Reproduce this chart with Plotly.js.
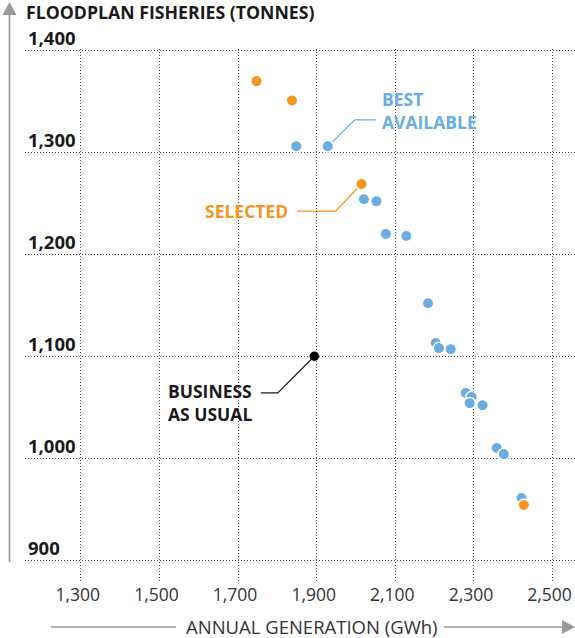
<!DOCTYPE html>
<html>
<head>
<meta charset="utf-8">
<script src="https://cdn.plot.ly/plotly-3.0.1.min.js"></script>
<style>html,body{margin:0;padding:0;background:#fff;}#chart{width:575px;height:638px;}</style>
</head>
<body>
<div id="chart"></div>
<script>
// ---- data ----
const blueX = [1848, 1928, 2020, 2052, 2076, 2128, 2183, 2203, 2211, 2241, 2279, 2294, 2289, 2322, 2358, 2376, 2421];
const blueY = [1306, 1306, 1254, 1252, 1220, 1218, 1152, 1113, 1108, 1107, 1064, 1060, 1054, 1052, 1010, 1004, 961];
const orangeX = [1747, 1837, 2014, 2427];
const orangeY = [1370, 1351, 1269, 954];
const bauX = [1894];
const bauY = [1100];
const xTickVals = [1300, 1500, 1700, 1900, 2100, 2300, 2500];
const xTickText = ["1,300", "1,500", "1,700", "1,900", "2,100", "2,300", "2,500"];
const yTickVals = [900, 1000, 1100, 1200, 1300, 1400];
const yTickText = ["900", "1,000", "1,100", "1,200", "1,300", "1,400"];
const titleText = "FLOODPLAN FISHERIES (TONNES)";
const xTitleText = "ANNUAL GENERATION (GWh)";
const labelBest = "BEST<br>AVAILABLE";
const labelSelected = "SELECTED";
const labelBau = "BUSINESS<br>AS USUAL";

// ---- styling ----
const BLUE = "#6aade2";
const ORANGE = "#f7941d";
const INK = "#1a1a1a";
const GREY = "#9a9a9a";
const FONT = "Open Sans";
const W = 575, H = 638;
const M = {l: 25, r: 0, t: 49, b: 56};
const pw = W - M.l - M.r, ph = H - M.t - M.b;
const px = x => (x - M.l) / pw;
const py = y => (H - M.b - y) / ph;

const traces = [
  {x: blueX, y: blueY, type: "scatter", mode: "markers", hoverinfo: "skip",
   marker: {color: BLUE, size: 11.5, line: {color: "#fff", width: 1.5}}},
  {x: orangeX, y: orangeY, type: "scatter", mode: "markers", hoverinfo: "skip",
   marker: {color: ORANGE, size: 11.5, line: {color: "#fff", width: 1.5}}},
  {x: bauX, y: bauY, type: "scatter", mode: "markers", hoverinfo: "skip",
   marker: {color: "#000", size: 9.5}}
];

const shapes = [
  // leader lines (data coordinates)
  {type: "path", xref: "x", yref: "y", layer: "below",
   path: `M ${blueX[1]},${blueY[1]} L 1997,1332 L 2050,1332`, line: {color: BLUE, width: 1.2}},
  {type: "path", xref: "x", yref: "y", layer: "below",
   path: `M ${orangeX[2]},${orangeY[2]} L 1948,1242.5 L 1850,1242.5`, line: {color: ORANGE, width: 1.2}},
  {type: "path", xref: "x", yref: "y", layer: "below",
   path: `M ${bauX[0]},${bauY[0]} L 1801,1064 L 1758,1064`, line: {color: INK, width: 1.2}},
  // y axis arrow
  {type: "line", xref: "paper", yref: "paper", x0: px(9.5), x1: px(9.5), y0: py(14), y1: py(562),
   line: {color: GREY, width: 1.6}},
  {type: "path", xref: "paper", yref: "paper", fillcolor: GREY, line: {width: 0},
   path: `M ${px(9.5)},${py(2)} L ${px(16.5)},${py(15)} L ${px(2.5)},${py(15)} Z`},
  // x axis arrow
  {type: "line", xref: "paper", yref: "paper", x0: px(51), x1: px(176), y0: py(627), y1: py(627),
   line: {color: GREY, width: 1.6}},
  {type: "line", xref: "paper", yref: "paper", x0: px(444), x1: px(565), y0: py(627), y1: py(627),
   line: {color: GREY, width: 1.6}},
  {type: "path", xref: "paper", yref: "paper", fillcolor: GREY, line: {width: 0},
   path: `M ${px(575)},${py(627)} L ${px(562)},${py(620)} L ${px(562)},${py(634)} Z`}
];

const boldFont = (c, s) => ({family: FONT, size: s || 17.5, color: c, weight: 700});

const annotations = [
  {x: 2061, y: 1341.6, xref: "x", yref: "y", text: labelBest, showarrow: false,
   xanchor: "left", yanchor: "middle", align: "left", font: boldFont(BLUE)},
  {x: 1832, y: 1242.5, xref: "x", yref: "y", text: labelSelected, showarrow: false,
   xanchor: "right", yanchor: "middle", align: "right", font: boldFont(ORANGE)},
  {x: 1740, y: 1054.6, xref: "x", yref: "y", text: labelBau, showarrow: false,
   xanchor: "right", yanchor: "middle", align: "left", font: boldFont(INK)},
  {x: px(312), y: py(626), xref: "paper", yref: "paper", text: xTitleText, showarrow: false,
   xanchor: "center", yanchor: "middle", font: {family: FONT, size: 18.5, color: "#333"}}
];
// y tick labels sit above their gridlines, left-aligned
yTickVals.forEach((v, i) => {
  annotations.push({x: px(26), y: v, xref: "paper", yref: "y", text: yTickText[i], showarrow: false,
    xanchor: "left", yanchor: "middle", yshift: 13, font: boldFont(INK, 18.5)});
});

const layout = {
  width: W, height: H, margin: M,
  paper_bgcolor: "#fff", plot_bgcolor: "#fff",
  showlegend: false,
  title: {text: titleText, xref: "container", yref: "container", x: 26 / W, xanchor: "left",
          y: 1 - 13 / H, yanchor: "middle", font: {family: FONT, size: 17.7, color: INK, weight: 700}},
  xaxis: {range: [1158, 2557], tickvals: xTickVals, ticktext: xTickText, showline: false, zeroline: false,
          ticks: "", showgrid: true, gridcolor: "#444", gridwidth: 1, griddash: "1px,2px",
          tickfont: {family: FONT, size: 17.5, color: "#333"}, ticklabelshift: -3, ticklabelstandoff: 0},
  yaxis: {range: [878.5, 1401.5], tickvals: yTickVals, showticklabels: false, showline: false, zeroline: false,
          ticks: "", showgrid: true, gridcolor: "#444", gridwidth: 1, griddash: "1px,2px"},
  shapes: shapes,
  annotations: annotations
};

Plotly.newPlot("chart", traces, layout, {displayModeBar: false, staticPlot: true});
</script>
</body>
</html>
